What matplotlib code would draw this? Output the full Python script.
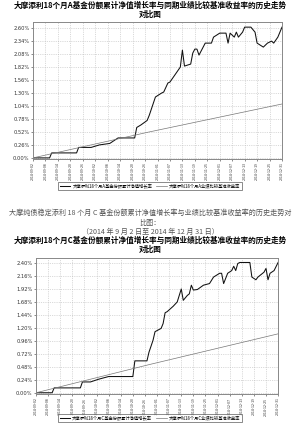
import matplotlib
matplotlib.use("Agg")
import matplotlib.pyplot as plt
import matplotlib.dates as mdates
import numpy as np

plt.rcParams['font.family'] = ['Noto Sans CJK SC', 'DejaVu Sans']

# A fund share: cumulative NAV growth (%) vs benchmark (%)
a_dates = ["2014-09-02", "2014-09-10", "2014-09-11", "2014-09-23", "2014-09-24",
           "2014-09-30", "2014-10-04", "2014-10-09", "2014-10-13", "2014-10-21",
           "2014-10-22", "2014-10-24", "2014-10-27", "2014-10-28", "2014-10-31",
           "2014-11-03", "2014-11-04", "2014-11-06", "2014-11-07", "2014-11-10",
           "2014-11-12", "2014-11-13", "2014-11-14", "2014-11-17", "2014-11-18",
           "2014-11-19", "2014-11-20", "2014-11-21", "2014-11-24", "2014-11-27",
           "2014-11-28", "2014-12-01", "2014-12-04", "2014-12-05", "2014-12-06",
           "2014-12-08", "2014-12-09", "2014-12-10", "2014-12-12", "2014-12-13",
           "2014-12-16", "2014-12-18", "2014-12-19", "2014-12-22", "2014-12-24",
           "2014-12-26", "2014-12-27", "2014-12-29", "2014-12-31"]
a_fund = [0.00, 0.00, 0.10, 0.10, 0.21,
          0.21, 0.26, 0.29, 0.40, 0.40,
          0.61, 0.66, 0.75, 0.85, 1.22,
          1.30, 1.32, 1.50, 1.52, 1.70,
          1.82, 2.16, 1.84, 1.88, 2.10,
          2.18, 2.18, 2.06, 2.30, 2.30,
          2.42, 2.50, 2.50, 2.30, 2.50,
          2.42, 2.52, 2.42, 2.52, 2.62,
          2.62, 2.52, 2.30, 2.22, 2.30,
          2.34, 2.30, 2.42, 2.62]
a_bench_dates = ["2014-09-02", "2014-10-28", "2014-12-31"]
a_bench = [0.00, 0.52, 1.08]

# C fund share
c_dates = ["2014-09-02", "2014-09-10", "2014-09-11", "2014-09-24", "2014-09-25",
           "2014-09-29", "2014-10-03", "2014-10-08", "2014-10-20", "2014-10-21",
           "2014-10-27", "2014-10-28", "2014-10-30", "2014-10-31", "2014-11-03",
           "2014-11-04", "2014-11-05", "2014-11-06", "2014-11-09", "2014-11-11",
           "2014-11-12", "2014-11-13", "2014-11-14", "2014-11-16", "2014-11-17",
           "2014-11-18", "2014-11-19", "2014-11-21", "2014-11-24", "2014-11-27",
           "2014-11-29", "2014-12-02", "2014-12-03", "2014-12-04", "2014-12-06",
           "2014-12-08", "2014-12-09", "2014-12-10", "2014-12-11", "2014-12-12",
           "2014-12-17", "2014-12-18", "2014-12-20", "2014-12-21", "2014-12-24",
           "2014-12-25", "2014-12-26", "2014-12-27", "2014-12-29", "2014-12-31"]
c_fund = [0.00, 0.00, 0.09, 0.09, 0.20,
          0.20, 0.25, 0.30, 0.30, 0.59,
          0.59, 0.75, 0.97, 1.13, 1.19,
          1.28, 1.48, 1.50, 1.60, 1.68,
          1.80, 1.92, 1.71, 1.80, 1.83,
          1.99, 1.90, 1.91, 1.99, 2.02,
          2.14, 2.21, 2.21, 2.02, 2.21,
          2.26, 2.34, 2.26, 2.39, 2.41,
          2.41, 2.14, 2.09, 2.14, 2.23,
          2.30, 2.09, 2.21, 2.26, 2.41]
c_bench_dates = ["2014-09-02", "2014-10-28", "2014-12-31"]
c_bench = [0.00, 0.52, 1.09]

a_yticks = [0.00, 0.26, 0.52, 0.78, 1.04, 1.30, 1.56, 1.82, 2.08, 2.34, 2.60]
c_yticks = [0.00, 0.24, 0.48, 0.72, 0.96, 1.20, 1.44, 1.68, 1.92, 2.16, 2.40]
xtick_dates = np.arange(np.datetime64("2014-09-02"), np.datetime64("2015-01-01"), 6)

a_title = "大摩添利18个月A基金份额累计净值增长率与同期业绩比较基准收益率的历史走势\n对比图"
c_title = "大摩添利18个月C基金份额累计净值增长率与同期业绩比较基准收益率的历史走势\n对比图"
a_labels = ["大摩添利18个月A基金份额累计净值增长率", "大摩添利18个月A业绩比较基准收益率"]
c_labels = ["大摩添利18个月C基金份额累计净值增长率", "大摩添利18个月C业绩比较基准收益率"]

fig = plt.figure(figsize=(3.0, 4.26), dpi=100)


def draw(ax, dates, fund, bdates, bench, yticks, ylim, labels, leg_y):
    d = np.array(dates, dtype="datetime64[D]")
    bd = np.array(bdates, dtype="datetime64[D]")
    l1, = ax.plot(d, fund, color="#111111", lw=0.75)
    l2, = ax.plot(bd, bench, color="#777777", lw=0.5)
    ax.set_xlim(np.datetime64("2014-09-02"), np.datetime64("2014-12-31"))
    ax.set_ylim(*ylim)
    ax.set_yticks(yticks)
    ax.set_yticklabels(["%.2f%%" % v for v in yticks], fontsize=3.7,
                       family="DejaVu Sans")
    ax.set_xticks(xtick_dates)
    ax.xaxis.set_major_formatter(mdates.DateFormatter("%Y-%m-%d"))
    plt.setp(ax.get_xticklabels(), rotation=90, fontsize=2.5)
    ax.tick_params(length=1.5, width=0.4, pad=1, colors="#333333")
    ax.grid(True, ls=(0, (2, 2)), lw=0.4, color="#bbbbbb")
    for s in ax.spines.values():
        s.set_color("#888888")
        s.set_linewidth(0.7)
    leg = fig.legend([l1, l2], labels, loc="center", bbox_to_anchor=(0.5, leg_y),
                     ncol=2, fontsize=3.1, frameon=True, fancybox=False,
                     handlelength=2.4, handletextpad=0.5, columnspacing=1.0,
                     borderpad=0.4, edgecolor="#333333")
    leg.get_frame().set_linewidth(0.5)


ax1 = fig.add_axes([0.11, 0.627, 0.83, 0.321])
draw(ax1, a_dates, a_fund, a_bench_dates, a_bench, a_yticks, (-0.02, 2.72),
     a_labels, 1 - 186 / 426)
fig.text(0.5, 1 - 10 / 426, a_title, ha="center", va="center", fontsize=5.5,
         fontweight="bold", linespacing=1.05)

fig.text(0.5, 1 - 213 / 426,
         "大摩纯债稳定添利 18 个月 C 基金份额累计净值增长率与业绩比较基准收益率的历史走势对",
         ha="center", va="center", fontsize=5.1, color="#555555")
fig.text(0.5, 1 - 223 / 426, "比图：", ha="center", va="center", fontsize=5.1,
         color="#555555")
fig.text(0.5, 1 - 232 / 426, "（2014 年 9 月 2 日至 2014 年 12 月 31 日）",
         ha="center", va="center", fontsize=5.1, color="#555555")

ax2 = fig.add_axes([0.12, 0.075, 0.807, 0.319])
draw(ax2, c_dates, c_fund, c_bench_dates, c_bench, c_yticks, (-0.024, 2.49),
     c_labels, 1 - 418 / 426)
fig.text(0.5, 1 - 245 / 426, c_title, ha="center", va="center", fontsize=5.5,
         fontweight="bold", linespacing=1.05)

fig.savefig("out.png", dpi=100)
